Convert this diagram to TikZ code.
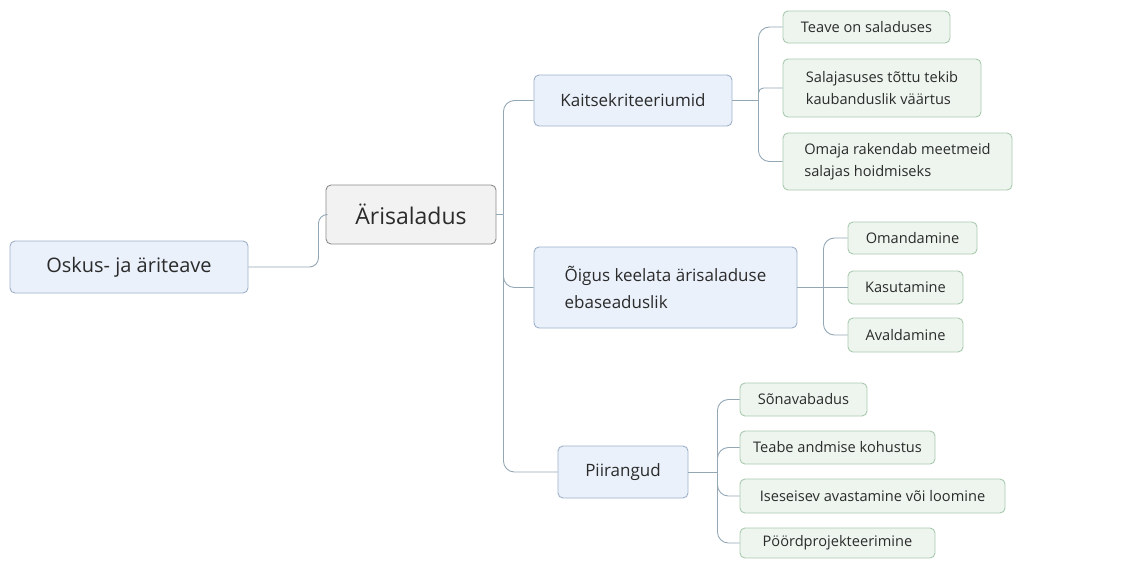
\documentclass[tikz,border=0pt]{standalone}
\usepackage{fontspec}
\setmainfont{Open Sans}
\usetikzlibrary{calc}
\definecolor{bluefill}{HTML}{EAF1FB}
\definecolor{blueline}{HTML}{9DB0C8}
\definecolor{greenfill}{HTML}{EDF5EE}
\definecolor{greenline}{HTML}{A9C9AE}
\definecolor{grayfill}{HTML}{F2F2F2}
\definecolor{grayline}{HTML}{8C8C8C}
\definecolor{linkcol}{HTML}{93A7B5}
\definecolor{txt}{HTML}{2B2B2B}

\tikzset{
  box/.style={draw, rounded corners=5pt, line width=0.9pt, inner sep=0pt, align=center, text=txt},
  bluebox/.style={box, fill=bluefill, draw=blueline, font=\fontsize{17}{27}\selectfont},
  greenbox/.style={box, fill=greenfill, draw=greenline, font=\fontsize{14.6}{22}\selectfont},
  graybox/.style={box, fill=grayfill, draw=grayline, font=\fontsize{23}{26}\selectfont},
  link/.style={draw=linkcol, line width=0.9pt},
  curvedlink/.style={link, rounded corners=11pt},
  smallcurve/.style={link, rounded corners=5pt},
  sz/.style 2 args={minimum width=#1pt, minimum height=#2pt},
}

\begin{document}
\begin{tikzpicture}[x=1pt, y=-1pt]
\useasboundingbox (0,0) rectangle (1123,560);

% main topics
\node[bluebox, sz={238}{52}, font=\fontsize{20}{24}\selectfont] (osk) at (129,267) {Oskus- ja äriteave};
\node[graybox, sz={170}{59}] (aris) at (411,214.5) {Ärisaladus};
\node[bluebox, sz={198}{51}] (kait) at (633,100.5) {Kaitsekriteeriumid};
\node[bluebox, sz={263}{81}, align=left] (oig) at (665.5,287.5) {Õigus keelata ärisaladuse\\ebaseaduslik};
\node[bluebox, sz={130}{52}] (piir) at (623,472)   {Piirangud};

% protection criteria
\node[greenbox, sz={167}{32}] (t1) at (866.5,27)   {Teave on saladuses};
\node[greenbox, sz={198}{58}, align=left] (t2) at (882,88)     {Salajasuses tõttu tekib\\kaubanduslik väärtus};
\node[greenbox, sz={229}{57}, align=left] (t3) at (897.5,161.5) {Omaja rakendab meetmeid\\salajas hoidmiseks};

% prohibited acts
\node[greenbox, sz={129}{32}] (o1) at (912.5,238)  {Omandamine};
\node[greenbox, sz={115}{33}] (o2) at (905.5,287.5) {Kasutamine};
\node[greenbox, sz={115}{34}] (o3) at (905.5,335)  {Avaldamine};

% limitations
\node[greenbox, sz={127}{33}] (p1) at (803.5,399.5) {Sõnavabadus};
\node[greenbox, sz={195}{33}] (p2) at (837.5,447.5) {Teabe andmise kohustus};
\node[greenbox, sz={265}{34}] (p3) at (872.5,496)   {Iseseisev avastamine või loomine};
\node[greenbox, sz={195}{30}] (p4) at (837.5,543)   {Pöördprojekteerimine};

% root link
\draw[link, rounded corners=9pt] (osk.east) -- ++(70,0) |- (aris.west);

% first level
\draw[link] (aris.east) -- ++(7,0) coordinate (as);
\draw[curvedlink] (as) |- (kait.west);
\draw[curvedlink] (as) |- (oig.west);
\draw[curvedlink] (as) |- (piir.west);

% criteria branch
\draw[link] (kait.east) -- ++(26,0) coordinate (ks);
\draw[curvedlink] (ks) |- (t1.west);
\draw[smallcurve] (ks) |- (t2.west);
\draw[curvedlink] (ks) |- (t3.west);

% acts branch
\draw[link] (oig.east) -- ++(26,0) coordinate (os);
\draw[curvedlink] (os) |- (o1.west);
\draw[link] (os) -- (o2.west);
\draw[curvedlink] (os) |- (o3.west);

% limitations branch
\draw[link] (piir.east) -- ++(29,0) coordinate (ps);
\draw[curvedlink] (ps) |- (p1.west);
\draw[curvedlink] (ps) |- (p2.west);
\draw[curvedlink] (ps) |- (p3.west);
\draw[curvedlink] (ps) |- (p4.west);
\end{tikzpicture}
\end{document}
